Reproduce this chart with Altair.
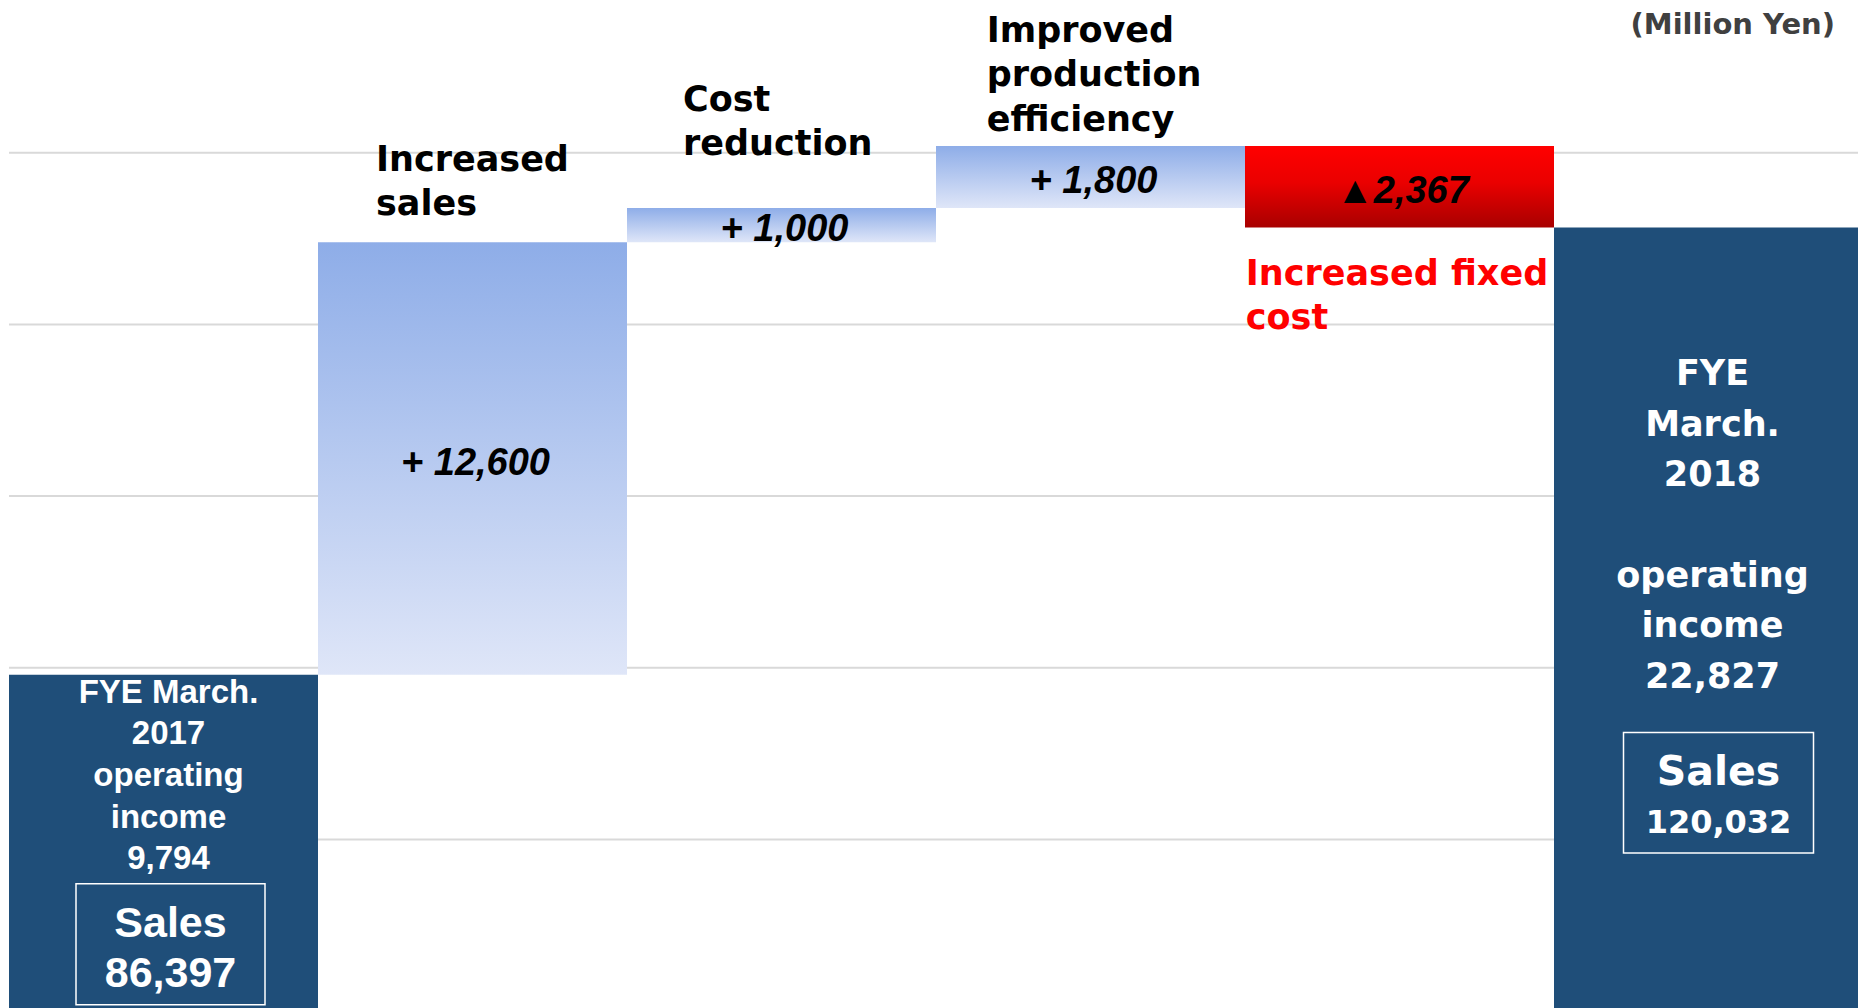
import altair as alt
import pandas as pd

# ---------------- data ----------------
categories = ["FYE March. 2017", "Increased sales", "Cost reduction",
              "Improved production efficiency", "Increased fixed cost", "FYE March. 2018"]
values = [9794, 12600, 1000, 1800, -2367, 22827]
kinds = ["total", "increase", "increase", "increase", "decrease", "total"]
value_labels = ["", "+ 12,600", "+ 1,000", "+ 1,800", "\u25b22,367", ""]
step_labels = ["", "Increased\nsales", "Cost\nreduction",
               "Improved\nproduction\nefficiency", "Increased fixed\ncost", ""]
total_head = ["FYE March.\n2017\noperating\nincome\n9,794", "", "", "", "",
              "FYE\nMarch.\n2018"]
total_body = ["", "", "", "", "", "operating\nincome\n22,827"]
sales_word = ["Sales", "", "", "", "", "Sales"]
sales_values = ["86,397", "", "", "", "", "120,032"]
grid_values = [5000, 10000, 15000, 20000, 25000]
unit_label = ["(Million Yen)"]

# running totals for the waterfall
rows = []
running = 0
for c, v, k, vl, sl, th, tb, sw, sv in zip(categories, values, kinds, value_labels,
                                           step_labels, total_head, total_body,
                                           sales_word, sales_values):
    if k == "total":
        start, end = 0, v
    else:
        start, end = running, running + v
    running = end
    rows.append(dict(category=c, kind=k, start=start, end=end, mid=(start + end) / 2,
                     value_label=vl, step_label=sl, total_head=th, total_body=tb,
                     sales_word=sw, sales_value=sv))
df = pd.DataFrame(rows)

# ---------------- layout ----------------
W, H = 1849, 1008
xscale = alt.Scale(domain=categories, range=[0, 1854], paddingInner=0, paddingOuter=0)
yscale = alt.Scale(domain=[90, 29450], clamp=True, nice=False, zero=False)
X = alt.X("category:N", scale=xscale, axis=None)

base = alt.Chart(df)

grid = alt.Chart(pd.DataFrame({"v": grid_values})).mark_rule(
    color="#d9d9d9", strokeWidth=2
).encode(
    y=alt.Y("v:Q", scale=yscale, axis=None),
    x=alt.value(0), x2=alt.value(W)
)

blue_grad = alt.Gradient(
    gradient="linear",
    stops=[alt.GradientStop(color="#8EADE8", offset=0),
           alt.GradientStop(color="#DFE6F8", offset=1)],
    x1=0, x2=0, y1=0, y2=1)
red_grad = alt.Gradient(
    gradient="linear",
    stops=[alt.GradientStop(color="#FF0000", offset=0),
           alt.GradientStop(color="#EA0000", offset=0.45),
           alt.GradientStop(color="#A80000", offset=1)],
    x1=0, x2=0, y1=0, y2=1)


def bars(kind, color):
    return base.transform_filter(alt.datum.kind == kind).mark_bar(color=color).encode(
        x=X,
        y=alt.Y("start:Q", scale=yscale, axis=None),
        y2=alt.Y2("end:Q"),
    )


totals = bars("total", "#1F4E79")
incs = bars("increase", blue_grad)
decs = bars("decrease", red_grad)

value_text = base.transform_filter(alt.datum.kind != "total").mark_text(
    font="Liberation Sans", fontSize=38, fontWeight="bold", fontStyle="italic",
    color="black", align="center", baseline="middle", dx=3, dy=5
).encode(x=X, y=alt.Y("mid:Q", scale=yscale, axis=None), text="value_label:N")


def step_text(cat, dx, dy, color="black"):
    return base.transform_filter(alt.datum.category == cat).mark_text(
        font="DejaVu Sans", fontSize=35, fontWeight="bold", color=color,
        align="left", baseline="alphabetic", lineBreak="\n", lineHeight=44.5,
        dx=dx, dy=dy
    ).encode(x=X, y=alt.Y("end:Q", scale=yscale, axis=None), text="step_label:N")


s1 = step_text(categories[1], -96.5, -71.3)
s2 = step_text(categories[2], -98.5, -97.3)
s3 = step_text(categories[3], -103.8, -104.3)
s4 = step_text(categories[4], -153.7, 57.6, color="#FF0000")


def cat_text(cat, field, font, size, dx, dy, line_height=40):
    return base.transform_filter(alt.datum.category == cat).mark_text(
        font=font, fontSize=size, fontWeight="bold", color="white",
        align="center", baseline="alphabetic", lineBreak="\n", lineHeight=line_height,
        dx=dx, dy=dy
    ).encode(x=X, y=alt.Y("end:Q", scale=yscale, axis=None), text=f"{field}:N")


t1 = cat_text(categories[0], "total_head", "Liberation Sans", 33, 5, 27.9, 41.6)
t6a = cat_text(categories[5], "total_head", "DejaVu Sans", 35, 4, 157.5, 50.7)
t6b = cat_text(categories[5], "total_body", "DejaVu Sans", 35, 4, 359.3, 50.7)

b1w = cat_text(categories[0], "sales_word", "Liberation Sans", 43, 7, 261.9)
b1v = cat_text(categories[0], "sales_value", "Liberation Sans", 43, 7, 311.9)
b6w = cat_text(categories[5], "sales_word", "DejaVu Sans", 41, 10, 557.9)
b6v = cat_text(categories[5], "sales_value", "DejaVu Sans", 32, 10, 605.3)


def frame(cat, width, xoff, y_top, y_bot):
    return base.transform_filter(alt.datum.category == cat).mark_bar(
        fill="transparent", stroke="#ffffff", strokeWidth=1.5,
        width=width, xOffset=xoff, yOffset=y_top, y2Offset=y_bot
    ).encode(x=X, y=alt.Y("end:Q", scale=yscale, axis=None), y2=alt.Y2("end:Q"))


f1 = frame(categories[0], 189, 7, 209, 330)
f6 = frame(categories[5], 190, 10, 505.1, 625.6)

unit = alt.Chart(pd.DataFrame({"t": unit_label})).mark_text(
    font="DejaVu Sans", fontSize=29, fontWeight="bold", color="#404040",
    align="right", baseline="alphabetic"
).encode(x=alt.value(1826), y=alt.value(34), text="t:N")

chart = alt.layer(
    grid, totals, incs, decs, value_text, s1, s2, s3, s4,
    t1, t6a, t6b, f1, f6, b1w, b1v, b6w, b6v, unit
).properties(
    width=W, height=H,
    padding={"left": 9, "top": 0, "right": 0, "bottom": 0},
    autosize="none",
    background="white",
).configure_view(stroke="transparent")

chart.save("out.html", embed_options={"renderer": "svg", "actions": False})
